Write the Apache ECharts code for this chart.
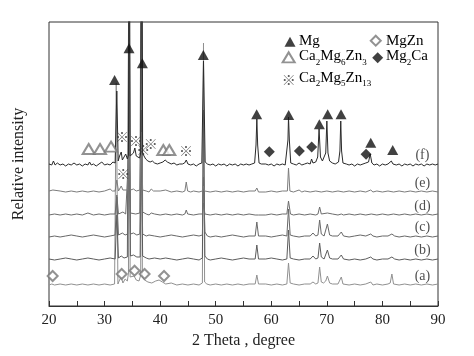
<!DOCTYPE html>
<html>
<head>
<meta charset="utf-8">
<script src="https://cdn.jsdelivr.net/npm/echarts@6/dist/echarts.min.js"></script>
<style>html,body{margin:0;padding:0;background:#fff}#c{width:474px;height:356px}</style>
</head>
<body>
<div id="c"></div>
<script>
// x-axis tick labels (2 Theta, degree)
const xTickLabels = [20, 30, 40, 50, 60, 70, 80, 90];
// trace names and their vertical display offsets (relative intensity units)
const traceNames = ['(a)', '(b)', '(c)', '(d)', '(e)', '(f)'];
const traceOffsets = [21, 46, 69, 91, 114, 141];
const traceLabelAt = [[87.2, 30], [87.2, 56], [87.2, 78.3], [87.2, 99.3], [87.2, 122.7], [87.2, 150.3]];

// [2theta, intensity above own baseline]
const traceA = [[20,0],[20.5,1],[21,0],[22,1],[23,0],[24,1],[25,0],[26,1],[27,0],[28,1],[29,0],[30,1],[31,0],[31.8,1],[32.1,202],[32.4,1],[32.7,5],[33.0,8],[33.3,2],[33.7,6],[34.1,4],[34.3,12],[34.45,330],[34.6,8],[34.9,6],[35.3,9],[35.7,5],[36.2,4],[36.5,10],[36.65,330],[36.8,8],[37.2,5],[37.8,3],[38.5,2],[39.2,4],[39.8,5],[40.4,3],[41,1],[42,2],[43,0],[44,1],[45,0],[46,1],[47,0],[47.6,2],[47.8,242],[48.0,3],[48.4,1],[49,0],[50,1],[51,0],[52,1],[53,0],[54,1],[55,0],[56,1],[57.1,1],[57.4,10],[57.7,1],[58,0],[59,1],[60,0],[61,1],[62,0],[62.8,1],[63.1,22],[63.4,2],[64,1],[65,0],[66,1],[67,1],[67.5,3],[68,1],[68.4,2],[68.7,18],[69.0,3],[69.4,2],[69.8,4],[70.1,9],[70.5,2],[71,1],[72,1],[72.3,2],[72.6,8],[72.9,1],[74,0],[75,1],[76,0],[77,1],[77.9,3],[78.3,0],[79,1],[80,0],[81,1],[81.4,2],[81.7,11],[82.0,1],[83,0],[84,1],[85,0],[86,1],[87,0],[88,1],[89,0],[90,1]];
const traceB = [[20,1],[21,0],[22,1],[23,2],[24,1],[25,0],[26,1],[27,2],[28,1],[29,0],[30,1],[31,2],[31.9,1],[32.2,45],[32.5,2],[33.0,4],[33.5,2],[34.1,3],[34.4,330],[34.65,4],[35.2,5],[35.8,3],[36.4,3],[36.6,150],[36.85,4],[37.5,2],[38,1],[39,2],[40,1],[41,2],[42,1],[43,0],[44,1],[45,2],[46,1],[47,0],[47.6,2],[47.8,150],[48.05,4],[48.5,1],[49,0],[50,1],[51,2],[52,1],[53,0],[54,1],[55,2],[56,1],[57.1,1],[57.4,15],[57.7,1],[58,0],[59,1],[60,2],[61,1],[62,0],[62.8,1],[63.1,30],[63.4,2],[64,1],[65,0],[66,1],[67,1],[67.5,4],[68,1],[68.4,2],[68.7,17],[69.0,3],[69.5,1],[69.8,3],[70.1,10],[70.5,2],[71,1],[72,1],[72.6,5],[73,1],[74,0],[75,1],[76,0],[77,1],[77.9,3],[78.3,1],[79,0],[80,1],[81,1],[81.7,3],[82.2,1],[83,0],[84,1],[85,0],[86,1],[87,0],[88,1],[89,0],[90,1]];
const traceC = [[20,0],[21,1],[22,0],[23,1],[24,2],[25,1],[26,0],[27,1],[28,2],[29,1],[30,0],[31,1],[31.9,2],[32.2,40],[32.5,2],[33.2,4],[33.7,2],[34.15,3],[34.4,100],[34.65,3],[35.2,4],[35.8,2],[36.35,3],[36.6,100],[36.85,3],[37.5,1],[38,2],[39,1],[40,0],[41,1],[42,2],[43,1],[44,0],[45,1],[46,2],[47,1],[47.6,2],[47.8,60],[48.05,5],[48.5,1],[49,0],[50,1],[51,0],[52,1],[53,2],[54,1],[55,0],[56,1],[57.1,1],[57.4,15],[57.7,1],[58,0],[59,1],[60,0],[61,1],[62,2],[62.8,1],[63.1,28],[63.4,2],[64,1],[65,0],[66,1],[67,1],[67.5,4],[68,1],[68.4,2],[68.7,17],[69.0,3],[69.5,1],[69.8,3],[70.1,13],[70.5,2],[71,1],[72,1],[72.6,5],[73,1],[74,0],[75,1],[76,2],[77,1],[77.9,3],[78.3,1],[79,0],[80,1],[81,1],[81.7,3],[82.2,1],[83,0],[84,1],[85,0],[86,1],[87,0],[88,1],[89,0],[90,1]];
const traceD = [[20,0],[21,1],[22,0],[23,1],[24,0],[25,1],[26,0],[27,2],[28,0],[29,1],[30,0],[31,1],[31.3,2],[31.9,1],[32.2,20],[32.5,1],[33.3,3],[33.8,1],[34.15,2],[34.4,70],[34.65,2],[35.0,3],[35.6,1],[36.35,2],[36.6,330],[36.85,3],[37.5,1],[38,0],[38.4,2],[39,1],[40,0],[41,1],[42,0],[43,1],[44,0],[44.45,1],[44.7,5],[44.95,1],[46,0],[47,1],[47.6,1],[47.8,12],[48.05,1],[49,0],[50,1],[51,0],[52,1],[53,0],[54,1],[55,0],[56,1],[57.1,0],[57.4,2],[57.7,0],[58,1],[59,0],[60,1],[61,0],[62,1],[62.8,1],[63.1,14],[63.45,1],[64,0],[65,1],[66,0],[67,1],[68,0],[68.4,1],[68.7,8],[69.0,1],[70.1,2],[70.4,0],[71,1],[72,0],[72.6,1],[73,0],[74,1],[75,0],[76,1],[77,0],[78,1],[79,0],[80,1],[81,0],[82,1],[83,0],[84,1],[85,0],[86,1],[87,0],[88,1],[89,0],[90,1]];
const traceE = [[20,1],[20.7,2],[21,0],[22,1],[23,0],[24,1],[25,0],[26,1],[27,0],[28,1],[29,0],[30,1],[31,3],[31.4,1],[31.9,1],[32.2,12],[32.5,1],[33.0,6],[33.3,2],[33.6,4],[34.15,2],[34.4,60],[34.65,2],[35.2,3],[35.7,1],[36.35,2],[36.6,60],[36.85,2],[37.5,1],[38,0],[38.4,3],[38.8,1],[39,0],[40,1],[41,2],[42,0],[43,1],[44,0],[44.45,1],[44.7,10],[44.95,1],[45.5,0],[46,1],[47,0],[47.6,1],[47.8,6],[48.0,1],[49,0],[50,1],[51,0],[52,1],[53,0],[54,1],[55,0],[56,1],[57.1,1],[57.4,4],[57.7,0],[58,1],[59,0],[60,1],[61,0],[62,1],[62.9,1],[63.1,24],[63.35,1],[64,0],[65,2],[65.5,0],[66,1],[67,0],[68,1],[69,0],[70,1],[71,0],[72,1],[73,0],[74,1],[75,0],[76,1],[77,0],[77.9,2],[78.3,0],[79,1],[80,0],[81,1],[82,0],[83,1],[84,0],[85,1],[86,0],[87,1],[88,0],[89,1],[90,0]];
const traceF = [[20,1],[20.5,0],[20.8,4],[21.1,0],[21.5,2],[22,0],[22.5,1],[23,-1],[23.5,1],[24,0],[24.5,2],[25,0],[25.5,1],[26,-1],[26.5,1],[27,0],[27.3,3],[27.6,0],[28,1],[28.5,-1],[29,1],[29.5,3],[30,0],[30.5,1],[31,0],[31.5,3],[31.9,2],[32.2,74],[32.45,4],[32.7,9],[33.0,13],[33.2,5],[33.5,8],[33.8,11],[34.1,6],[34.3,10],[34.45,330],[34.6,9],[34.9,7],[35.2,12],[35.45,17],[35.7,9],[36.0,10],[36.3,7],[36.5,12],[36.7,330],[36.85,12],[37.1,9],[37.4,6],[37.8,4],[38.2,3],[38.6,4],[39,2],[39.5,1],[40,2],[40.5,3],[40.9,5],[41.3,3],[41.6,4],[42,1],[42.5,2],[43,0],[43.5,1],[44,1],[44.4,2],[44.7,5],[45,1],[45.5,0],[46,1],[46.5,-1],[47,1],[47.5,2],[47.8,104],[48.1,3],[48.5,1],[49,0],[49.5,1],[50,-1],[50.5,1],[51,0],[51.5,1],[52,-1],[52.5,1],[53,0],[53.5,1],[54,-1],[54.5,1],[55,0],[55.5,1],[56,0],[56.5,1],[57.0,2],[57.25,20],[57.4,46],[57.55,20],[57.8,2],[58.2,1],[58.5,-1],[59,1],[59.5,0],[60,1],[60.5,-1],[61,1],[61.5,0],[62,1],[62.5,0],[62.8,2],[63.0,25],[63.1,48],[63.25,25],[63.5,2],[64,1],[64.5,0],[65,2],[65.5,0],[66,1],[66.5,2],[67,1],[67.25,6],[67.5,2],[68.0,3],[68.35,8],[68.6,36],[68.85,8],[69.2,4],[69.5,5],[69.8,12],[70.0,44],[70.2,12],[70.5,4],[71,2],[71.5,1],[72.1,3],[72.35,14],[72.5,44],[72.65,14],[72.9,2],[73.5,1],[74,0],[74.5,1],[75,-1],[75.5,1],[76,0],[76.5,1],[77,2],[77.5,3],[77.8,11],[78.1,2],[78.5,0],[79,1],[79.5,-1],[80,1],[80.5,0],[81,1],[81.3,2],[81.6,4],[81.9,1],[82.5,0],[83,1],[83.5,-1],[84,1],[84.5,0],[85,1],[85.5,-1],[86,1],[86.5,0],[87,1],[87.5,-1],[88,1],[88.5,0],[89,1],[89.5,0],[90,1]];
const traces = [traceA, traceB, traceC, traceD, traceE, traceF];
const traceColors = ['#909090', '#5c5c5c', '#686868', '#6c6c6c', '#7c7c7c', '#2a2a2a'];

// phase markers [2theta, level]
const mgMarks = [[31.8,226],[34.4,257.7],[36.8,242.7],[47.77,251],[57.37,191.7],[63.13,191],[68.65,181.7],[70.15,191.7],[72.55,191.7],[77.9,163.3],[81.85,156]];
const ca2mg6zn3Marks = [[27.14,157],[29.18,157],[31.16,159.3],[40.57,156],[41.65,156]];
const ca2mg5zn13Marks = [[33.14,169.3],[35.66,165.3],[36.97,156],[38.3,162],[44.65,155.3],[33.37,132.7]];
const mgZnMarks = [[20.66,30],[33.08,32],[35.4,35.3],[37.2,32],[40.7,30]];
const mg2CaMarks = [[59.65,154.3],[65.05,155],[67.27,159],[77.06,151.7]];
// legend key symbols
const legendMg = [[63.37,264.3]];
const legendCa2Mg6Zn3 = [[63.13,248.7]];
const legendCa2Mg5Zn13 = [[63.13,226.7]];
const legendMgZn = [[78.8,265.3]];
const legendMg2Ca = [[79.15,248.3]];

const serif = 'Liberation Serif';
const chart = echarts.init(document.getElementById('c'), null, {renderer: 'canvas'});

const series = [];
traces.forEach((tr, i) => {
  series.push({
    type: 'line', name: traceNames[i], showSymbol: false, symbol: 'none', animation: false,
    data: tr.map(p => [p[0], p[1] + traceOffsets[i]]),
    lineStyle: {color: traceColors[i], width: 1},
    z: 2 + i, clip: true
  });
});
series.push({
  type: 'scatter', data: traceLabelAt.map((p, i) => ({value: p, name: traceNames[i]})),
  symbolSize: 1, itemStyle: {color: 'rgba(0,0,0,0)'}, z: 20, animation: false,
  label: {show: true, position: 'inside', formatter: p => p.name, fontFamily: serif, fontSize: 14, color: '#222'}
});
series.push({type: 'scatter', data: mgMarks.concat(legendMg), symbol: 'triangle', symbolSize: [11, 10], itemStyle: {color: '#111'}, z: 20, animation: false});
series.push({type: 'scatter', data: ca2mg6zn3Marks.concat(legendCa2Mg6Zn3), symbol: 'emptyTriangle', symbolSize: [12, 10], itemStyle: {color: '#777', borderWidth: 1}, z: 20, animation: false});
series.push({type: 'scatter', data: mgZnMarks.concat(legendMgZn), symbol: 'emptyDiamond', symbolSize: [10, 10], itemStyle: {color: '#777', borderWidth: 1}, z: 20, animation: false});
series.push({type: 'scatter', data: mg2CaMarks.concat(legendMg2Ca), symbol: 'diamond', symbolSize: [11, 11], itemStyle: {color: '#111'}, z: 20, animation: false});
series.push({
  type: 'scatter', data: ca2mg5zn13Marks.concat(legendCa2Mg5Zn13), symbolSize: 1, itemStyle: {color: 'rgba(0,0,0,0)'}, z: 20, animation: false,
  label: {show: true, position: 'inside', formatter: '※', fontFamily: 'Noto Sans CJK SC', fontSize: 14, color: '#333'}
});

const rich = {
  m: {fontFamily: serif, fontSize: 15, color: '#111', lineHeight: 17},
  s: {fontFamily: serif, fontSize: 9, color: '#111', lineHeight: 9, verticalAlign: 'bottom', padding: [0, 0, -2, 0]}
};
function legendText(left, cy, txt) {
  return {type: 'text', left: left, top: cy - 8.5, z: 30, style: {text: txt, rich: rich}};
}

chart.setOption({
  animation: false,
  backgroundColor: '#fff',
  grid: {left: 49, right: 36, top: 22, bottom: 50, show: true, borderColor: '#333', borderWidth: 1, backgroundColor: 'transparent'},
  xAxis: {
    type: 'value', min: 20, max: 90, interval: 5,
    name: '2 Theta , degree', nameLocation: 'middle', nameGap: 26,
    nameTextStyle: {fontFamily: serif, fontSize: 16, color: '#222'},
    axisLine: {show: true, lineStyle: {color: '#333', width: 1}},
    axisTick: {show: true, inside: true, length: 5, lineStyle: {color: '#333'}},
    axisLabel: {fontFamily: serif, fontSize: 15, color: '#222', margin: 7,
      formatter: v => (xTickLabels.indexOf(v) >= 0 ? String(v) : '')},
    splitLine: {show: false}
  },
  yAxis: {
    type: 'value', min: 0, max: 284,
    name: 'Relative intensity', nameLocation: 'middle', nameGap: 22,
    nameTextStyle: {fontFamily: serif, fontSize: 16, color: '#222'},
    axisLine: {show: false}, axisTick: {show: false}, axisLabel: {show: false}, splitLine: {show: false}
  },
  graphic: [
    legendText(299, 41.7, '{m|Mg}'),
    legendText(299, 57.5, '{m|Ca}{s|2}{m|Mg}{s|6}{m|Zn}{s|3}'),
    legendText(299, 79, '{m|Ca}{s|2}{m|Mg}{s|5}{m|Zn}{s|13}'),
    legendText(386, 41.7, '{m|MgZn}'),
    legendText(386, 57.5, '{m|Mg}{s|2}{m|Ca}')
  ],
  series: series
});
</script>
</body>
</html>
